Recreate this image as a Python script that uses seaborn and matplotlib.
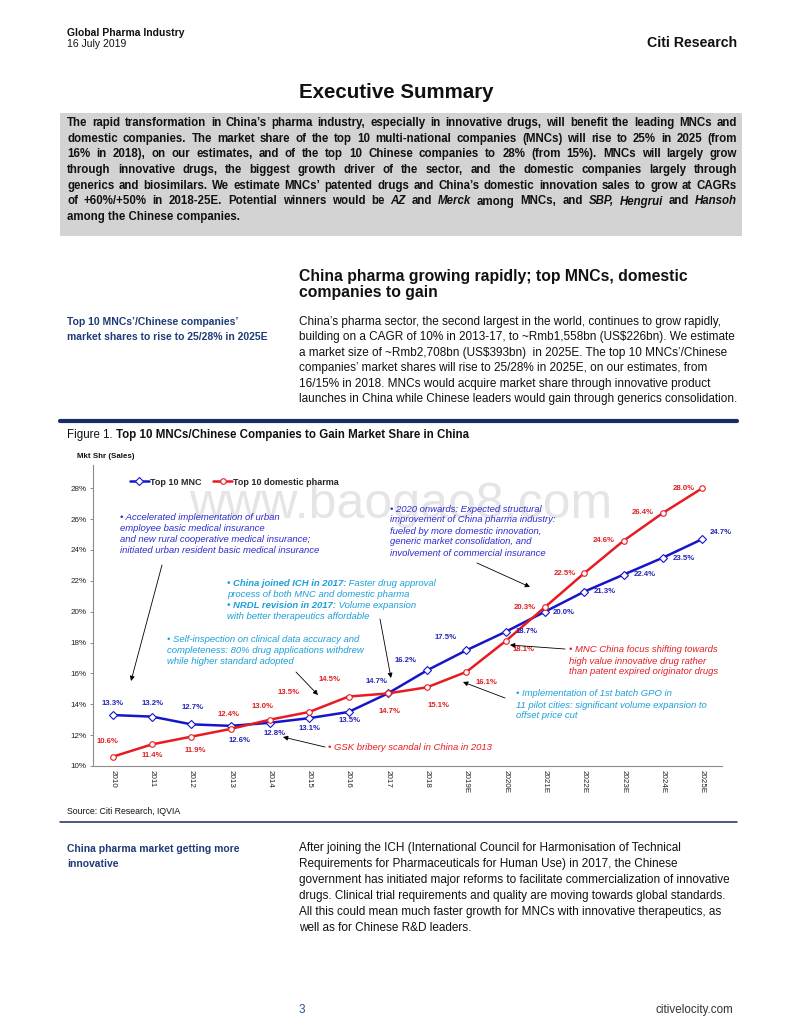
import numpy as np
import pandas as pd
import seaborn as sns
import matplotlib
matplotlib.use('Agg')
import matplotlib.pyplot as plt
from matplotlib.patches import Rectangle, FancyArrowPatch
from matplotlib.ticker import FuncFormatter

sns.set_style("white")
plt.rcParams['font.family'] = ['Liberation Sans', 'DejaVu Sans']

# ---- data ----
years = ['2010', '2011', '2012', '2013', '2014', '2015', '2016', '2017', '2018',
         '2019E', '2020E', '2021E', '2022E', '2023E', '2024E', '2025E']
mnc_share = [13.3, 13.2, 12.7, 12.6, 12.8, 13.1, 13.5, 14.7, 16.2,
             17.5, 18.7, 20.0, 21.3, 22.4, 23.5, 24.7]
domestic_share = [10.6, 11.4, 11.9, 12.4, 13.0, 13.5, 14.5, 14.7, 15.1,
                  16.1, 18.1, 20.3, 22.5, 24.6, 26.4, 28.0]
series_names = ['Top 10 MNC', 'Top 10 domestic pharma']
y_ticks = [10, 12, 14, 16, 18, 20, 22, 24, 26, 28]

# label offsets in pixels (dx, dy downward)
mnc_off = [(0, -12), (1, -13), (1, -17), (9, 15), (5, 11), (0, 10), (1, 9), (-11, -12),
           (-22, -10), (-21, -13), (21, 0), (19, 1), (20, 0), (21, 0), (21, 1), (18, -7)]
dom_off = [(-5, -15), (0, 11), (4, 14), (-2, -14), (-7, -13), (-21, -19), (-19, -17), (2, 18),
           (11, 18), (20, 11), (18, 9), (-20, 0), (-20, 0), (-20, 0), (-20, 0), (-19, 0)]

BLUE = '#1616c8'
RED = '#e61c22'
BLUE_LBL = '#2424b8'
RED_LBL = '#e02020'
DARK_BLUE = '#2b2bcf'
CYAN = '#1c9fd8'
NAVY = '#1f3b78'
LINE_NAVY = '#172c62'

W, H = 800, 1036
fig = plt.figure(figsize=(8, 10.36), dpi=100)
fig.patch.set_facecolor('white')
rend = fig.canvas.get_renderer()


def put(x, y, s, size, **kw):
    kw.setdefault('va', 'center')
    return fig.text(x / W, 1 - y / H, s, fontsize=size, parse_math=False, **kw)


def run_line(x, y, parts, size, **kw):
    for s, extra in parts:
        t = put(x, y, s, size, **{**kw, **extra})
        x += t.get_window_extent(renderer=rend).width


italic_words = {'AZ', 'Merck', 'SBP', 'Hengrui', 'Hansoh'}


def justify(x0, x1, y, line, size, **kw):
    words = line.split(' ')
    ts = [put(x0, y, w, size, style='italic' if w.strip('.,') in italic_words else 'normal', **kw)
          for w in words]
    ws = [t.get_window_extent(renderer=rend).width for t in ts]
    gap = (x1 - x0 - sum(ws)) / (len(ws) - 1)
    x = x0
    for t, w in zip(ts, ws):
        t.set_x(x / W)
        x += w + gap


# ---- page header ----
put(67, 33, 'Global Pharma Industry', 7.5, weight='bold', color='#111111')
put(67, 44, '16 July 2019', 7.5, color='#111111')
put(737, 43, 'Citi Research', 10.2, weight='bold', ha='right', color='#111111')
put(396, 93, 'Executive Summary', 14.8, weight='bold', ha='center', color='#111111')

fig.patches.append(Rectangle((60 / W, 1 - 236 / H), 682 / W, 123 / H, transform=fig.transFigure,
                             facecolor='#d3d3d3', edgecolor='none', zorder=0))
summary = [
    'The rapid transformation in China\u2019s pharma industry, especially in innovative drugs, will benefit the leading MNCs and',
    'domestic companies. The market share of the top 10 multi-national companies (MNCs) will rise to 25% in 2025 (from',
    '16% in 2018), on our estimates, and of the top 10 Chinese companies to 28% (from 15%). MNCs will largely grow',
    'through innovative drugs, the biggest growth driver of the sector, and the domestic companies largely through',
    'generics and biosimilars. We estimate MNCs\u2019 patented drugs and China\u2019s domestic innovation sales to grow at CAGRs',
    'of +60%/+50% in 2018-25E. Potential winners would be AZ and Merck among MNCs, and SBP, Hengrui and Hansoh',
]
for i, line in enumerate(summary):
    justify(67, 737, 123 + 15.7 * i, line, 8.3, weight='bold', color='#111111')
put(67, 123 + 15.7 * 6, 'among the Chinese companies.', 8.3, weight='bold', color='#111111')

# ---- section 1 ----
put(299, 276, 'China pharma growing rapidly; top MNCs, domestic', 11.3, weight='bold', color='#111111')
put(299, 293, 'companies to gain', 11.3, weight='bold', color='#111111')
put(67, 322, 'Top 10 MNCs\u2019/Chinese companies\u2019', 7.5, weight='bold', color=NAVY)
put(67, 337, 'market shares to rise to 25/28% in 2025E', 7.5, weight='bold', color=NAVY)
para1 = [
    'China\u2019s pharma sector, the second largest in the world, continues to grow rapidly,',
    'building on a CAGR of 10% in 2013-17, to ~Rmb1,558bn (US$226bn). We estimate',
    'a market size of ~Rmb2,708bn (US$393bn)  in 2025E. The top 10 MNCs\u2019/Chinese',
    'companies\u2019 market shares will rise to 25/28% in 2025E, on our estimates, from',
    '16/15% in 2018. MNCs would acquire market share through innovative product',
    'launches in China while Chinese leaders would gain through generics consolidation.',
]
for i, line in enumerate(para1):
    put(299, 322 + 15.4 * i, line, 8.45, color='#111111')

fig.lines.append(plt.Line2D([60 / W, 737 / W], [1 - 421 / H] * 2, transform=fig.transFigure,
                            color=LINE_NAVY, lw=3))
run_line(67, 435, [('Figure 1. ', {}), ('Top 10 MNCs/Chinese Companies to Gain Market Share in China',
                                        {'weight': 'bold'})], 8.3, color='#111111')
put(77, 457, 'Mkt Shr (Sales)', 5.7, weight='bold', color='#111111')

# ---- chart ----
ax = fig.add_axes([93 / W, 1 - 766 / H, (722 - 93) / W, (766 - 465) / H])
df = pd.DataFrame({
    'Year': years * 2,
    'Share': mnc_share + domestic_share,
    'Series': [series_names[0]] * len(years) + [series_names[1]] * len(years),
})
sns.lineplot(data=df, x='Year', y='Share', hue='Series', style='Series',
             palette={series_names[0]: BLUE, series_names[1]: RED},
             markers={series_names[0]: 'D', series_names[1]: 'o'}, dashes=False,
             markersize=4.0, markerfacecolor='white', markeredgewidth=0.8, lw=1.8,
             estimator=None, sort=False, legend=False, ax=ax)
for ln in ax.lines:
    ln.set_markeredgecolor(ln.get_color())
    ln.set_markerfacecolor('white')
ax.set_xlim(-0.5, len(years) - 0.5)
ax.set_ylim(10, 29.5)
ax.set_xlabel('')
ax.set_ylabel('')
ax.set_yticks(y_ticks)
ax.yaxis.set_major_formatter(FuncFormatter(lambda v, p: f'{v:.0f}%'))
ax.set_xticks(np.arange(-0.5, len(years), 1), minor=True)
ax.tick_params(axis='x', which='major', length=0, pad=3, labelsize=5.8, labelrotation=-90,
               labelcolor='#222222')
ax.tick_params(axis='x', which='minor', length=2.5, width=0.7, color='#8c8c8c', direction='out')
ax.tick_params(axis='y', length=2.2, width=0.7, color='#8c8c8c', pad=2.5, labelsize=5.8,
               labelcolor='#222222', direction='out', left=True)
for lbl in ax.get_xticklabels():
    lbl.set_va('top')
    lbl.set_ha('center')
sns.despine(ax=ax)
for s in ['left', 'bottom']:
    ax.spines[s].set_color('#8c8c8c')
    ax.spines[s].set_linewidth(0.8)

for i, (v, (dx, dy)) in enumerate(zip(mnc_share, mnc_off)):
    ax.annotate(f'{v:.1f}%', (i, v), xytext=(dx, -dy), textcoords='offset pixels', ha='center',
                va='center', fontsize=5.6, weight='bold', color=BLUE_LBL, zorder=5)
for i, (v, (dx, dy)) in enumerate(zip(domestic_share, dom_off)):
    ax.annotate(f'{v:.1f}%', (i, v), xytext=(dx, -dy), textcoords='offset pixels', ha='center',
                va='center', fontsize=5.6, weight='bold', color=RED_LBL, zorder=5)

ax.legend(handles=ax.lines[:2], labels=series_names, loc='center left',
          bbox_to_anchor=(130 / W, 1 - 482 / H), bbox_transform=fig.transFigure, ncol=2,
          frameon=False, prop=dict(weight='bold', size=6.5), handlelength=2.1,
          handletextpad=0.1, columnspacing=1.3, borderpad=0, borderaxespad=0)

ax.text(401 / W, 1 - 505 / H, 'www.baogao8.com', transform=fig.transFigure, fontsize=36,
        color='#e5e5e5', ha='center', va='center', zorder=0.5)

# ---- chart annotations ----
B = {'weight': 'bold'}
N = {}
notes = [
    (120, 518, 10.8, DARK_BLUE, [[('\u2022 Accelerated implementation of urban', N)],
                                 [('employee basic medical insurance', N)],
                                 [('and new rural cooperative medical insurance;', N)],
                                 [('initiated urban resident basic medical insurance', N)]],
     (162, 565), (131, 681)),
    (390, 509, 11, DARK_BLUE, [[('\u2022 2020 onwards: Expected structural', N)],
                               [('improvement of China pharma industry:', N)],
                               [('fueled by more domestic innovation,', N)],
                               [('generic market consolidation, and', N)],
                               [('involvement of commercial insurance', N)]],
     (477, 563), (530, 587)),
    (227, 584, 10.8, CYAN, [[('\u2022 China joined ICH in 2017:', B), (' Faster drug approval', N)],
                            [('process of both MNC and domestic pharma', N)],
                            [('\u2022 NRDL revision in 2017:', B), (' Volume expansion', N)],
                            [('with better therapeutics affordable', N)]],
     (380, 619), (391, 678)),
    (167, 640, 10.7, CYAN, [[('\u2022 Self-inspection on clinical data accuracy and', N)],
                            [('completeness: 80% drug applications withdrew', N)],
                            [('while higher standard adopted', N)]],
     (296, 672), (318, 695)),
    (328, 748, 11, RED, [[('\u2022 GSK bribery scandal in China in 2013', N)]],
     (325, 747), (283, 737)),
    (569, 650, 11, RED, [[('\u2022 MNC China focus shifting towards', N)],
                         [('high value innovative drug rather', N)],
                         [('than patent expired originator drugs', N)]],
     (565, 649), (510, 645)),
    (516, 694, 11, CYAN, [[('\u2022 Implementation of 1st batch GPO in', N)],
                          [('11 pilot cities: significant volume expansion to', N)],
                          [('offset price cut', N)]],
     (505, 698), (463, 682)),
]
for x0, y0, step, col, lines, tail, tip in notes:
    for j, parts in enumerate(lines):
        run_line(x0, y0 + step * j, parts, 6.8, style='italic', color=col)
    fig.add_artist(FancyArrowPatch(
        (tail[0] / W, 1 - tail[1] / H), (tip[0] / W, 1 - tip[1] / H), transform=fig.transFigure,
        arrowstyle='-|>', mutation_scale=7, color='black', lw=0.6, shrinkA=0, shrinkB=0))

# ---- lower part ----
put(67, 811, 'Source: Citi Research, IQVIA', 6.3, color='#111111')
fig.lines.append(plt.Line2D([60 / W, 737 / W], [1 - 822 / H] * 2, transform=fig.transFigure,
                            color=LINE_NAVY, lw=1.1))
put(67, 849, 'China pharma market getting more', 7.5, weight='bold', color=NAVY)
put(67, 864, 'innovative', 7.5, weight='bold', color=NAVY)
para2 = [
    'After joining the ICH (International Council for Harmonisation of Technical',
    'Requirements for Pharmaceuticals for Human Use) in 2017, the Chinese',
    'government has initiated major reforms to facilitate commercialization of innovative',
    'drugs. Clinical trial requirements and quality are moving towards global standards.',
    'All this could mean much faster growth for MNCs with innovative therapeutics, as',
    'well as for Chinese R&D leaders.',
]
for i, line in enumerate(para2):
    put(299, 848 + 16 * i, line, 8.45, color='#111111')

put(299, 1010, '3', 8.5, color='#2b4f9e')
put(733, 1010, 'citivelocity.com', 8.4, ha='right', color='#333333')

fig.savefig('out.png', dpi=100, facecolor='white')
